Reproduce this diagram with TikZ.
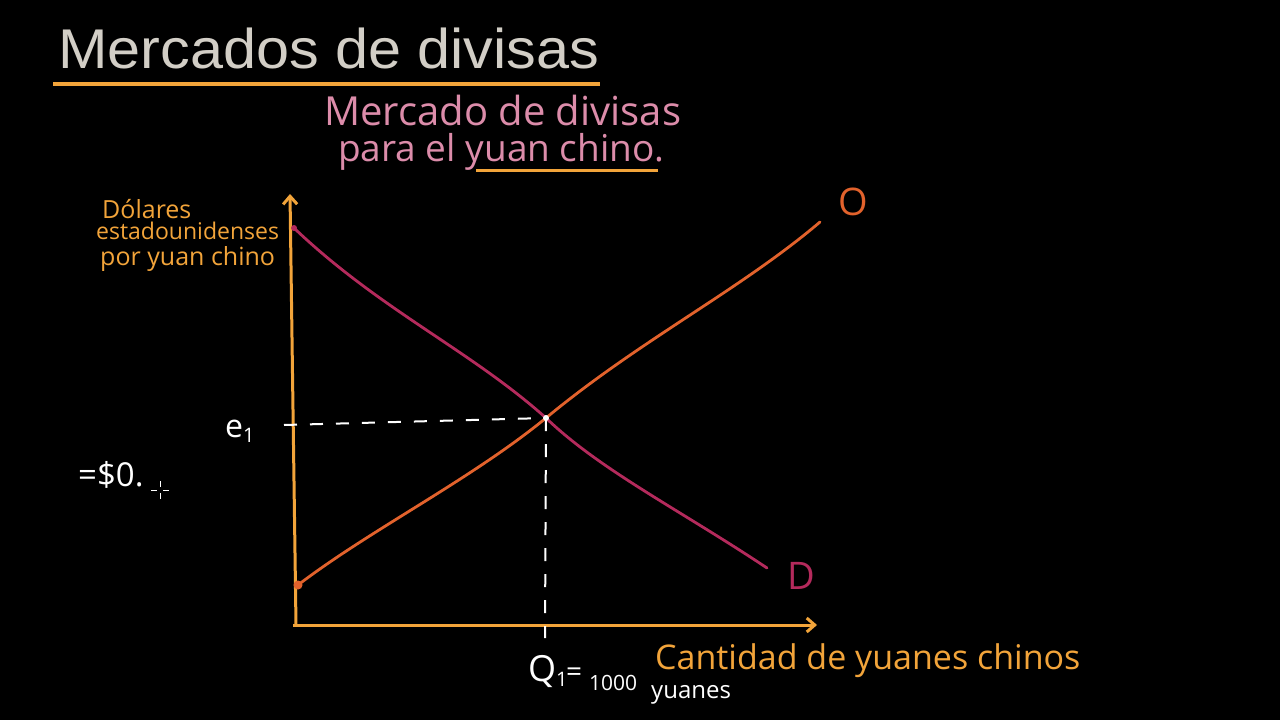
\documentclass[tikz,border=0pt]{standalone}
\usepackage{fontspec}
\setmainfont{Open Sans}
\newfontfamily\titlefont{Liberation Sans}
\usetikzlibrary{arrows.meta}
\definecolor{bg}{HTML}{000000}
\definecolor{titlegray}{HTML}{D2CEC6}
\definecolor{axisorange}{HTML}{F2A43A}
\definecolor{pinktext}{HTML}{DC8CAA}
\definecolor{supplyc}{HTML}{E2622C}
\definecolor{demandc}{HTML}{B42A5C}
\tikzset{
  hand/.style={font=\fontsize{#1}{#1}\selectfont, inner sep=0pt},
  axis/.style={axisorange, line width=3pt, -{Straight Barb[length=8pt,width=14pt]}},
  dash line/.style={white, line width=2pt, dash pattern=on 13pt off 13pt},
  curve/.style={line width=2.8pt, line cap=round, line join=round},
}
\begin{document}
\begin{tikzpicture}[x=1pt,y=-1pt]
\fill[bg] (0,0) rectangle (1280,720);
\useasboundingbox (0,0) rectangle (1280,720);
% title
\node[anchor=base west, inner sep=0pt, text=titlegray, font=\titlefont\fontsize{56}{56}\selectfont] (title) at (58,68) {\scalebox{1.06}[1]{Mercados de divisas}};
\draw[axisorange, line width=3.5pt] (53,84) coordinate (tl0) -- (600,84) coordinate (tl1);
% pink subtitle
\node[anchor=base west, hand=40, text=pinktext] (sub1) at (324,125) {Mercado de divisas};
\node[anchor=base west, hand=37, text=pinktext] (sub2) at (338,161) {para el yuan chino.};
\draw[axisorange, line width=3pt] (476,170) coordinate (ul0) -- (658,170) coordinate (ul1);
% axes
\coordinate (O) at (296,625);
\coordinate (ytop) at (290,194);
\coordinate (xend) at (817,625);
\draw[axis] (O) -- (ytop);
\draw[axis] (293,625) -- (xend);
% y label
\node[anchor=base west, hand=25, text=axisorange] (yl1) at (102,218) {Dólares};
\node[anchor=base west, hand=23, text=axisorange] (yl2) at (96,239) {estadounidenses};
\node[anchor=base west, hand=25, text=axisorange] (yl3) at (100,265) {por yuan chino};
% equilibrium
\coordinate (E) at (546,418);
% demand
\draw[demandc, curve] (294,228) .. controls (380,310) and (470,350) .. (E)
  .. controls (600,470) and (680,510) .. (767,568) coordinate (dend);
\fill[demandc] (294,228) circle (3pt);
% supply
\draw[supplyc, curve] (298,585) .. controls (370,530) and (470,480) .. (E)
  .. controls (640,340) and (740,290) .. (820,222) coordinate (send);
\fill[supplyc] (298,585) circle (4.5pt);
% dashed lines
\coordinate (eL) at (284,425);
\coordinate (qB) at (545,638);
\draw[dash line] (eL) -- (E);
\draw[dash line] (E) -- (qB);
\fill[white] (E) circle (3pt);
% curve labels
\node[hand=38, text=supplyc] (Olab) at (853,202) {O};
\node[hand=38, text=demandc] (Dlab) at (801,576) {D};
% e1
\node[hand=32, text=white, anchor=base west] (e1) at (225,437) {e\textsubscript{\fontsize{20}{20}\selectfont 1}};
\node[hand=33, text=white, anchor=base west] (price) at (78,486) {=\$0.};
% cursor
\draw[white, line width=1pt] (151,490) -- (157,490) (163,490) -- (169,490) (160,481) -- (160,487) (160,493) -- (160,499);
% quantity
\node[hand=36, text=white, anchor=base west] (Q) at (528,681) {Q\textsubscript{\fontsize{20}{20}\selectfont 1}};
\node[hand=28, text=white, anchor=base west] (eq) at (566,681) {=};
\node[hand=21, text=white, anchor=base west] (num) at (589,690) {1000};
\node[hand=24, text=white, anchor=base west] (yu) at (651,698) {yuanes};
\node[hand=34, text=axisorange, anchor=base west] (xl) at (655,669) {Cantidad de yuanes chinos};
\end{tikzpicture}
\end{document}
